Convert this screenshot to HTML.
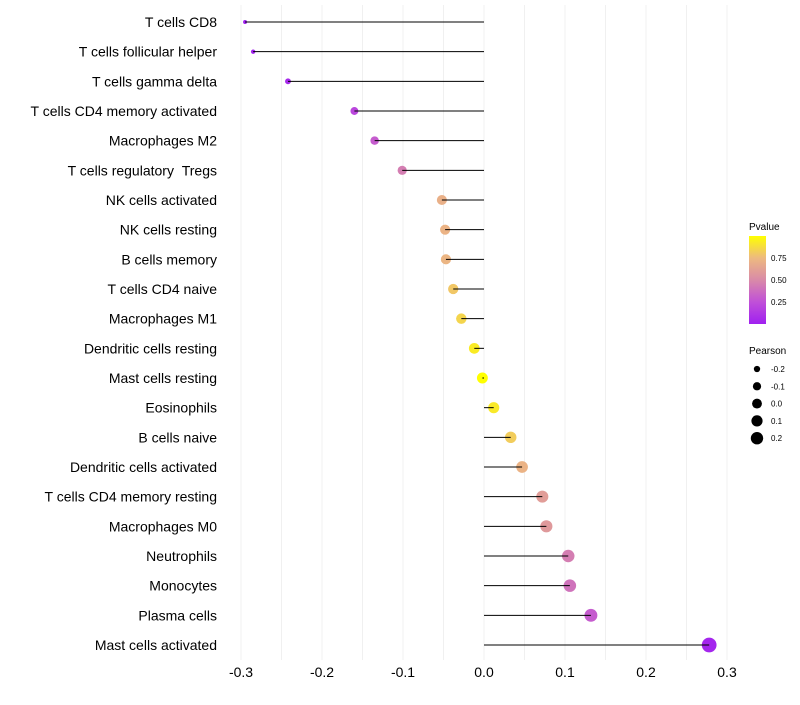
<!DOCTYPE html>
<html><head><meta charset="utf-8"><style>
body{margin:0;background:#fff;font-family:"Liberation Sans",sans-serif}
</style></head><body>
<svg id="chart" width="800" height="700" xmlns="http://www.w3.org/2000/svg" font-family="Liberation Sans, sans-serif">
<defs>
<linearGradient id="pg" x1="0" y1="1" x2="0" y2="0">
<stop offset="0" stop-color="#A020F0"/>
<stop offset="0.25" stop-color="#C050D8"/>
<stop offset="0.5" stop-color="#D98AA8"/>
<stop offset="0.75" stop-color="#EDB980"/>
<stop offset="1" stop-color="#FFFF00"/>
</linearGradient>
</defs>
<g id="grid"></g>
<g id="dots"></g>
<g id="marks"></g>
<g id="labels"></g>
<g id="xticks"></g>
<g>
<text x="749" y="230" font-size="10">Pvalue</text>
<rect x="749" y="236" width="17" height="88" fill="url(#pg)"/>
<text x="771" y="261" font-size="8">0.75</text>
<text x="771" y="283" font-size="8">0.50</text>
<text x="771" y="305" font-size="8">0.25</text>
</g>
<g id="sizeleg">
<text x="749" y="354" font-size="10">Pearson</text>
</g>
</svg>
<script>
const categories=["T cells CD8","T cells follicular helper","T cells gamma delta","T cells CD4 memory activated","Macrophages M2","T cells regulatory\u00a0\u00a0Tregs","NK cells activated","NK cells resting","B cells memory","T cells CD4 naive","Macrophages M1","Dendritic cells resting","Mast cells resting","Eosinophils","B cells naive","Dendritic cells activated","T cells CD4 memory resting","Macrophages M0","Neutrophils","Monocytes","Plasma cells","Mast cells activated"];
const pearson=[-0.295,-0.285,-0.242,-0.160,-0.135,-0.101,-0.052,-0.048,-0.047,-0.038,-0.028,-0.012,-0.002,0.012,0.033,0.047,0.072,0.077,0.104,0.106,0.132,0.278];
const pvalue=[0.0,0.01,0.05,0.2,0.3,0.45,0.7,0.72,0.73,0.8,0.85,0.93,1.0,0.92,0.82,0.72,0.6,0.58,0.45,0.4,0.3,0.03];
const xTicks=[-0.3,-0.2,-0.1,0.0,0.1,0.2,0.3];
const xTickLabels=["-0.3","-0.2","-0.1","0.0","0.1","0.2","0.3"];
const sizeLegendValues=[-0.2,-0.1,0.0,0.1,0.2];
const sizeLegendLabels=["-0.2","-0.1","0.0","0.1","0.2"];

const NS="http://www.w3.org/2000/svg";
const xS=v=>484+v*810;
const yS=i=>22+i*(623/(categories.length-1));
const rS=v=>Math.sqrt(Math.max(1,3.5+88*(v+0.3)));
const stops=[[0,[160,32,240]],[0.25,[192,80,216]],[0.5,[217,138,168]],[0.75,[237,185,128]],[1,[255,255,0]]];
function col(p){for(let k=1;k<stops.length;k++){if(p<=stops[k][0]){const a=stops[k-1],b=stops[k],t=(p-a[0])/(b[0]-a[0]);return "rgb("+a[1].map((c,j)=>Math.round(c+(b[1][j]-c)*t)).join(",")+")";}}return "rgb(255,255,0)";}
function mk(t,at,parent){const e=document.createElementNS(NS,t);for(const k in at)e.setAttribute(k,at[k]);parent.appendChild(e);return e;}
const grid=document.getElementById('grid'),marks=document.getElementById('marks'),dots=document.getElementById('dots'),labels=document.getElementById('labels'),xt=document.getElementById('xticks');
for(let v=-0.3;v<=0.3001;v+=0.05){const g=mk('line',{x1:xS(v),x2:xS(v),y1:5,y2:660,stroke:'#f0f0f0','stroke-width':1},grid);

}
categories.forEach((c,i)=>{
 const y=yS(i);
 const d=mk('circle',{cx:xS(pearson[i]),cy:y,r:rS(pearson[i]),fill:col(pvalue[i])},dots);
 
 
 const l=mk('line',{x1:xS(0),x2:xS(pearson[i]),y1:y,y2:y,stroke:'#000','stroke-width':1},marks);
 
 
 const t=mk('text',{x:217,y:y+5,'text-anchor':'end','font-size':14,fill:'#000'},labels);t.textContent=c;
 
 
});
xTicks.forEach((v,i)=>{const t=mk('text',{x:xS(v),y:677,'text-anchor':'middle','font-size':14,fill:'#000'},xt);t.textContent=xTickLabels[i];

});
const sl=document.getElementById('sizeleg');
sizeLegendValues.forEach((v,i)=>{const y=369+i*17.3;
 const c=mk('circle',{cx:757,cy:y,r:rS(v)*0.9,fill:'#000'},sl);
 
 
 const t=mk('text',{x:771,y:y+3,'font-size':8},sl);t.textContent=sizeLegendLabels[i];
 
 });
</script>
</body></html>
